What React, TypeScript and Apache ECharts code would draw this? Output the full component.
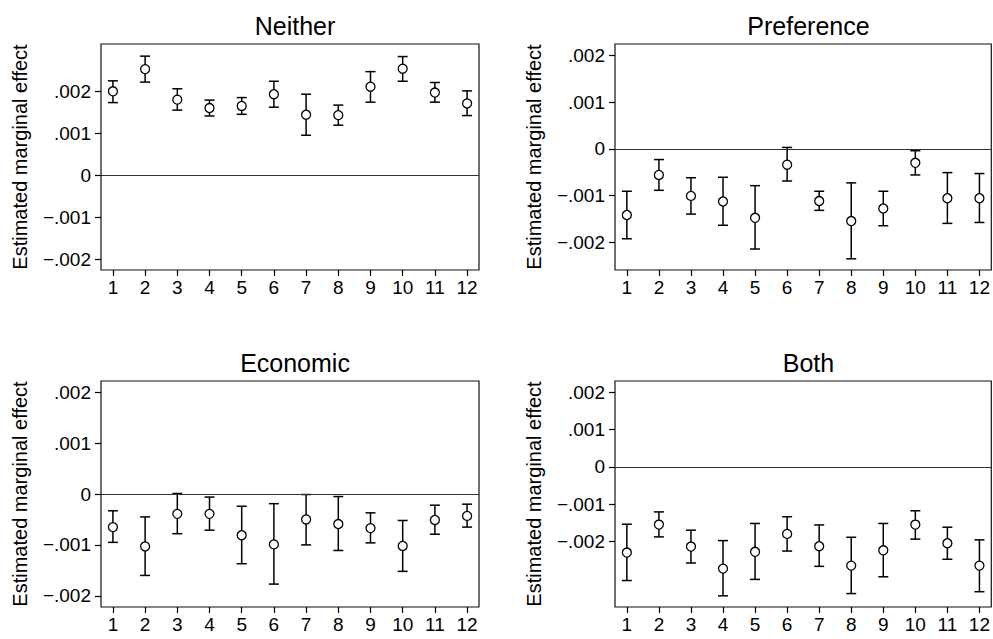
import React, { useEffect, useRef } from "react";
import * as echarts from "echarts";

const positions = [1, 2, 3, 4, 5, 6, 7, 8, 9, 10, 11, 12];
const yTicks = [-0.002, -0.001, 0, 0.001, 0.002];

const panelTitles = ["Neither", "Preference", "Economic", "Both"];

const neitherEst = [0.00201, 0.00254, 0.00181, 0.00161, 0.00166, 0.00194, 0.00145, 0.00144, 0.00212, 0.00255, 0.00198, 0.00172];
const neitherLo = [0.00174, 0.00223, 0.00156, 0.00142, 0.00146, 0.00163, 0.00096, 0.0012, 0.00175, 0.00225, 0.00175, 0.00143];
const neitherHi = [0.00226, 0.00285, 0.00207, 0.0018, 0.00186, 0.00225, 0.00194, 0.00168, 0.00248, 0.00284, 0.00222, 0.00202];

const prefEst = [-0.00142, -0.00056, -0.00101, -0.00113, -0.00148, -0.00034, -0.00112, -0.00155, -0.00128, -0.0003, -0.00106, -0.00106];
const prefLo = [-0.00193, -0.00089, -0.0014, -0.00164, -0.00215, -0.00069, -0.00132, -0.00236, -0.00165, -0.00056, -0.0016, -0.00158];
const prefHi = [-0.00091, -0.00023, -0.00062, -0.00061, -0.00079, 0.00003, -0.00091, -0.00073, -0.00091, -0.00004, -0.00051, -0.00053];

const econEst = [-0.00065, -0.00103, -0.00039, -0.00039, -0.00081, -0.00099, -0.0005, -0.00059, -0.00067, -0.00102, -0.00051, -0.00043];
const econLo = [-0.00095, -0.0016, -0.00078, -0.00071, -0.00137, -0.00177, -0.001, -0.00111, -0.00096, -0.00152, -0.00079, -0.00065];
const econHi = [-0.00033, -0.00045, 0.00001, -0.00006, -0.00024, -0.00019, -0.00001, -0.00005, -0.00037, -0.00052, -0.00022, -0.0002];

const bothEst = [-0.0023, -0.00155, -0.00214, -0.00273, -0.00228, -0.0018, -0.00213, -0.00265, -0.00224, -0.00155, -0.00205, -0.00265];
const bothLo = [-0.00305, -0.00188, -0.00258, -0.00346, -0.00302, -0.00226, -0.00267, -0.0034, -0.00295, -0.00194, -0.00248, -0.00335];
const bothHi = [-0.00154, -0.00121, -0.0017, -0.00198, -0.00152, -0.00134, -0.00156, -0.00189, -0.00152, -0.00118, -0.00162, -0.00196];

const panelData = [
  { est: neitherEst, lo: neitherLo, hi: neitherHi, yMin: -0.00226, yMax: 0.00314 },
  { est: prefEst, lo: prefLo, hi: prefHi, yMin: -0.0026, yMax: 0.00225 },
  { est: econEst, lo: econLo, hi: econHi, yMin: -0.00222, yMax: 0.00222 },
  { est: bothEst, lo: bothLo, hi: bothHi, yMin: -0.00376, yMax: 0.0023 },
];

const FONT = "'Liberation Sans', Arial, Helvetica, sans-serif";

function fmtY(v: number): string {
  if (Math.abs(v) < 1e-9) return "0";
  const n = String(Math.round(Math.abs(v) * 1000)).padStart(3, "0");
  return (v < 0 ? "\u2212" : "") + "." + n;
}

export default function App() {
  const ref = useRef<HTMLDivElement>(null);

  useEffect(() => {
    if (!ref.current) return;
    const chart = echarts.init(ref.current, undefined, { renderer: "svg" });

    const grids = [
      { left: 101, top: 44, width: 378, height: 226 },
      { left: 615, top: 44, width: 377, height: 226 },
      { left: 101, top: 381, width: 378, height: 226 },
      { left: 615, top: 381, width: 377, height: 226 },
    ];
    const titleTops = [8, 8, 345, 345];

    const option: any = {
      animation: false,
      backgroundColor: "#fff",
      textStyle: { fontFamily: FONT },
      title: panelTitles.map((t, i) => ({
        text: t,
        left: grids[i].left + grids[i].width / 2,
        top: titleTops[i],
        textAlign: "center",
        textStyle: { fontFamily: FONT, fontSize: 25, fontWeight: "normal", color: "#000" },
      })),
      grid: grids.map((g) => ({
        ...g,
        show: true,
        borderColor: "#111",
        borderWidth: 1.2,
        backgroundColor: "transparent",
        containLabel: false,
      })),
      xAxis: grids.map((_, i) => ({
        type: "value",
        gridIndex: i,
        position: "bottom",
        min: 0.63,
        max: 12.37,
        axisLine: { show: false, onZero: false },
        splitLine: { show: false },
        axisTick: { show: true, length: 6, customValues: positions, lineStyle: { color: "#000", width: 1.2 } },
        axisLabel: {
          customValues: positions,
          margin: 8,
          fontSize: 19,
          color: "#000",
          fontFamily: FONT,
        },
      })),
      yAxis: grids.map((_, i) => ({
        type: "value",
        gridIndex: i,
        position: "left",
        min: panelData[i].yMin,
        max: panelData[i].yMax,
        name: "Estimated marginal effect",
        nameLocation: "middle",
        nameRotate: 90,
        nameGap: 71,
        nameTextStyle: { fontSize: 20, color: "#000", fontFamily: FONT },
        axisLine: { show: false, onZero: false },
        splitLine: { show: false },
        axisTick: { show: true, length: 6, customValues: yTicks, lineStyle: { color: "#000", width: 1.2 } },
        axisLabel: {
          customValues: yTicks,
          margin: 10,
          fontSize: 19,
          color: "#000",
          fontFamily: FONT,
          formatter: (v: number) => fmtY(v),
        },
      })),
      series: [] as any[],
    };

    panelData.forEach((p, i) => {
      option.series.push({
        type: "custom",
        xAxisIndex: i,
        yAxisIndex: i,
        silent: true,
        encode: { x: 0, y: [1, 2] },
        data: positions.map((x, k) => [x, p.lo[k], p.hi[k]]),
        renderItem: (params: any, api: any) => {
          const x = api.value(0);
          const a = api.coord([x, api.value(1)]);
          const b = api.coord([x, api.value(2)]);
          const hw = 5;
          const style = { stroke: "#000", lineWidth: 1.5 };
          return {
            type: "group",
            children: [
              { type: "line", shape: { x1: a[0], y1: a[1], x2: b[0], y2: b[1] }, style },
              { type: "line", shape: { x1: a[0] - hw, y1: a[1], x2: a[0] + hw, y2: a[1] }, style },
              { type: "line", shape: { x1: b[0] - hw, y1: b[1], x2: b[0] + hw, y2: b[1] }, style },
            ],
          };
        },
        z: 2,
      });
      option.series.push({
        type: "scatter",
        xAxisIndex: i,
        yAxisIndex: i,
        silent: true,
        symbol: "circle",
        symbolSize: 9,
        itemStyle: { color: "#fff", borderColor: "#000", borderWidth: 1.3, opacity: 1 },
        data: positions.map((x, k) => [x, p.est[k]]),
        markLine: {
          silent: true,
          symbol: ["none", "none"],
          label: { show: false },
          lineStyle: { color: "#333", width: 1, type: "solid" },
          emphasis: { disabled: true },
          data: [{ yAxis: 0 }],
        },
        z: 3,
      });
    });

    chart.setOption(option);
    return () => chart.dispose();
  }, []);

  return (
    <div
      ref={ref}
      style={{ position: "fixed", left: 0, top: 0, width: 993, height: 639, background: "#fff" }}
    />
  );
}
